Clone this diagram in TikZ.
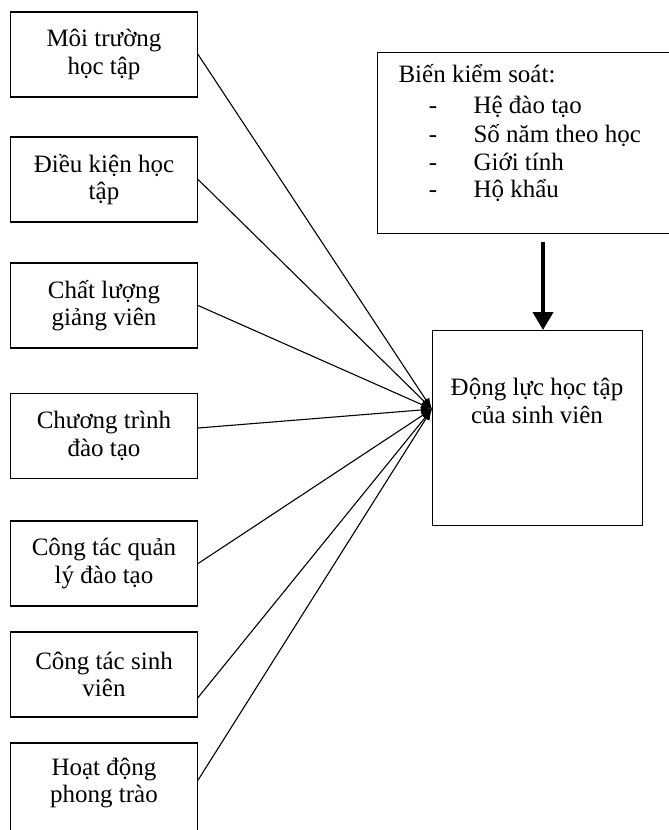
\documentclass[tikz,border=0pt]{standalone}
\usepackage{fontspec}
\setmainfont{Liberation Serif}
\usetikzlibrary{calc, arrows.meta}
\newcommand{\fsBox}{\fontsize{25}{27.5}\selectfont}

\tikzset{
  factor/.style={draw, line width=1.2pt, minimum width=187pt, minimum height=85pt,
    align=center, inner sep=0pt, font=\fsBox},
  link/.style={line width=1.1pt, -{Latex[length=11pt, width=8pt]}},
}

\begin{document}
\begin{tikzpicture}[x=1pt, y=-1pt]
  \useasboundingbox (0,0) rectangle (669,830);

  % factors on the left
  \node[factor] (moitruong) at (104,54.5) {Môi trường\\học tập};
  \node[factor] (dieukien) at (104,179.5) {Điều kiện học\\tập};
  \node[factor] (giangvien) at (104,305.5) {Chất lượng\\giảng viên};
  \node[factor] (chuongtrinh) at (104,436) {Chương trình\\đào tạo};
  \node[factor] (quanly) at (104,563.5) {Công tác quản\\lý đào tạo};
  \node[factor] (sinhvien) at (104,674.5) {Công tác sinh\\viên};
  \node[factor, minimum height=90pt] (phongtrao) at (104,788) {};
  \node[font=\fsBox, align=center] (phongtraotext) at (104,783) {Hoạt động\\phong trào};

  % control variables
  \node[draw, line width=1.2pt, minimum width=320pt, minimum height=181pt, anchor=north west,
    inner sep=0pt] (ctrl) at (377,52) {};
  \node[font=\fsBox, anchor=base west] (ctrltitle) at (395,82) {Biến kiểm soát:};
  \foreach \t/\y [count=\i] in {Hệ đào tạo/113, Số năm theo học/142, Giới tính/170, Hộ khẩu/197}{
    \node[font=\fsBox, anchor=base] (dash\i) at (433,\y) {-};
    \node[font=\fsBox, anchor=base west] (item\i) at (470,\y) {\t};
  }

  % outcome
  \node[draw, line width=1.2pt, minimum width=210pt, minimum height=195pt, anchor=north west,
    inner sep=0pt] (dongluc) at (432,330) {};
  \node[font=\fsBox, align=center] (donglucText) at (537,401) {Động lực học tập\\của sinh viên};

  \coordinate (hub) at ([yshift=19pt]dongluc.west);
  \coordinate (ctrltip) at (543,242);

  \draw[link] (moitruong.east) -- (hub);
  \draw[link] (dieukien.east) -- (hub);
  \draw[link] (giangvien.east) -- (hub);
  \draw[link] ([yshift=8pt]chuongtrinh.east) -- (hub);
  \draw[link] (quanly.east) -- (hub);
  \draw[link] ([yshift=-23pt]sinhvien.east) -- (hub);
  \draw[link] ([yshift=8pt]phongtrao.east) -- (hub);

  \draw[line width=4pt, -{Triangle[length=18pt, width=20pt]}] (ctrltip) -- (ctrltip |- dongluc.north);
\end{tikzpicture}
\end{document}
